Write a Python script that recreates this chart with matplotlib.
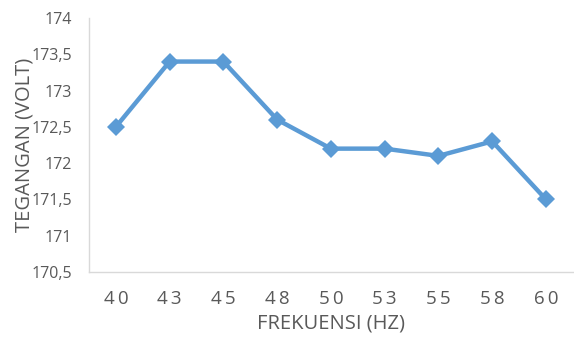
import matplotlib.pyplot as plt
from matplotlib.ticker import FuncFormatter

frekuensi = ["40", "43", "45", "48", "50", "53", "55", "58", "60"]
tegangan = [172.5, 173.4, 173.4, 172.6, 172.2, 172.2, 172.1, 172.3, 171.5]

plt.rcParams['font.family'] = ['Open Sans', 'DejaVu Sans']
grey = "#595959"

fig = plt.figure(figsize=(5.74, 3.40), dpi=100)
ax = fig.add_axes([0.155, 0.2, 0.843, 0.747])

x = range(len(frekuensi))
ax.plot(x, tegangan, color="#5B9BD5", lw=3.2, marker="D", markersize=9.5,
        markeredgewidth=0, solid_joinstyle="round")

ax.set_xlim(-0.5, len(frekuensi) - 0.5)
ax.set_ylim(170.5, 174)
ax.set_yticks([170.5 + 0.5 * i for i in range(8)])
ax.yaxis.set_major_formatter(FuncFormatter(lambda v, p: f"{v:g}".replace(".", ",")))
ax.set_xticks(list(x))
# spaced-out digits on the category axis
ax.set_xticklabels(["\u2009".join(f) for f in frekuensi])

ax.tick_params(axis="y", length=0, pad=12, labelsize=11.5, labelcolor=grey)
ax.tick_params(axis="x", length=0, pad=13, labelsize=13.5, labelcolor=grey)

for s in ["top", "right"]:
    ax.spines[s].set_visible(False)
for s in ["left", "bottom"]:
    ax.spines[s].set_color("#D9D9D9")
    ax.spines[s].set_linewidth(1.0)

ax.set_xlabel("FREKUENSI (HZ)", fontsize=14.5, color=grey, labelpad=4)
ax.set_ylabel("TEGANGAN (VOLT)", fontsize=14.5, color=grey, labelpad=-2)

fig.savefig("out.png", dpi=100)
